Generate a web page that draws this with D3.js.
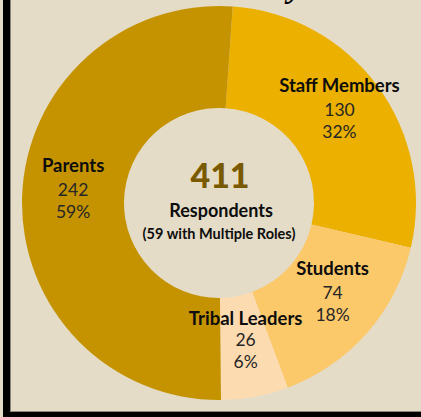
<!DOCTYPE html>
<html>
<head>
<meta charset="utf-8">
<script src="https://cdn.jsdelivr.net/npm/d3@7"></script>
<style>
  html, body { margin: 0; padding: 0; background: #e4dcc7; }
  svg { display: block; }
</style>
</head>
<body>
<svg id="chart" width="421" height="417"></svg>
<script>
// ---- data ----
const categories = ["Staff Members", "Students", "Tribal Leaders", "Parents"];
const counts = [130, 74, 26, 242];
const percentLabels = ["32%", "18%", "6%", "59%"];
const colors = ["#ebb000", "#fcc96a", "#fddbb0", "#c59300"];
const totalRespondents = 411;
const centerSubtitle = "Respondents";
const centerNote = "(59 with Multiple Roles)";

// ---- layout ----
const W = 421, H = 417;
const cx = 219, cy = 203;
const outerR = 197, innerR = 95;
const startDeg = 4;
const labelFont = "Lato, 'Open Sans', sans-serif";

const svg = d3.select("#chart");

svg.append("rect").attr("x", 0).attr("y", 0).attr("width", W).attr("height", H).attr("fill", "#e4dcc7");

// frame (left and bottom visible)
svg.append("rect").attr("x", 3).attr("y", -10).attr("width", 7).attr("height", H + 20).attr("fill", "#000");
svg.append("rect").attr("x", 3).attr("y", 412).attr("width", W + 10).attr("height", 10).attr("fill", "#000");
svg.append("line").attr("x1", 10.5).attr("x2", 10.5).attr("y1", 0).attr("y2", 412).attr("stroke", "#8a8478").attr("stroke-width", 1);
svg.append("line").attr("x1", 10).attr("x2", W).attr("y1", 411.5).attr("y2", 411.5).attr("stroke", "#8a8478").attr("stroke-width", 1);

// cut-off title descender
svg.append("text")
  .attr("x", 303).attr("y", -3)
  .attr("text-anchor", "end")
  .attr("font-family", "'Liberation Serif', serif")
  .attr("font-weight", "bold").attr("font-style", "italic")
  .attr("font-size", 34).attr("fill", "#000")
  .text("y");

const pie = d3.pie().sort(null).value(d => d)
  .startAngle(startDeg * Math.PI / 180)
  .endAngle((360 + startDeg) * Math.PI / 180);
const arcs = pie(counts);
const arc = d3.arc().innerRadius(innerR).outerRadius(outerR);

const g = svg.append("g").attr("transform", `translate(${cx},${cy})`);
g.selectAll("path.slice").data(arcs).enter().append("path")
  .attr("class", "slice")
  .attr("d", arc)
  .attr("fill", (d, i) => colors[i])
  .attr("stroke", "none");

// labels (per-slice nudges relative to ring centroid)
const nudges = [[3, 0], [4, 0], [0, -1], [0, -3]];
const titleGap = [24, 24, 21, 24];
const lineOffsets = [0, 22];
arcs.forEach((a, i) => {
  const [x0, y0] = arc.centroid(a);
  const x = x0 + nudges[i][0], y = y0 + nudges[i][1];
  const t = g.append("text").attr("text-anchor", "middle").attr("font-family", labelFont);
  t.append("tspan").attr("x", x).attr("y", y - titleGap[i])
    .attr("font-weight", "bold").attr("font-size", 18.5).attr("fill", "#0d0d0d")
    .text(categories[i]);
  t.append("tspan").attr("x", x).attr("y", y + lineOffsets[0])
    .attr("font-size", 17.5).attr("fill", "#262626")
    .text(counts[i]);
  t.append("tspan").attr("x", x).attr("y", y + lineOffsets[1])
    .attr("font-size", 17.5).attr("fill", "#262626")
    .text(percentLabels[i]);
});

// center text
g.append("text").attr("x", 1).attr("y", -15).attr("text-anchor", "middle")
  .attr("font-family", labelFont).attr("font-weight", "900").attr("font-size", 34)
  .attr("fill", "#7a5a00").text(totalRespondents);
g.append("text").attr("x", 2).attr("y", 14).attr("text-anchor", "middle")
  .attr("font-family", labelFont).attr("font-weight", "bold").attr("font-size", 18)
  .attr("fill", "#0d0d0d").text(centerSubtitle);
g.append("text").attr("x", 0).attr("y", 36).attr("text-anchor", "middle")
  .attr("font-family", labelFont).attr("font-weight", "bold").attr("font-size", 14.5)
  .attr("fill", "#0d0d0d").text(centerNote);
</script>
</body>
</html>
